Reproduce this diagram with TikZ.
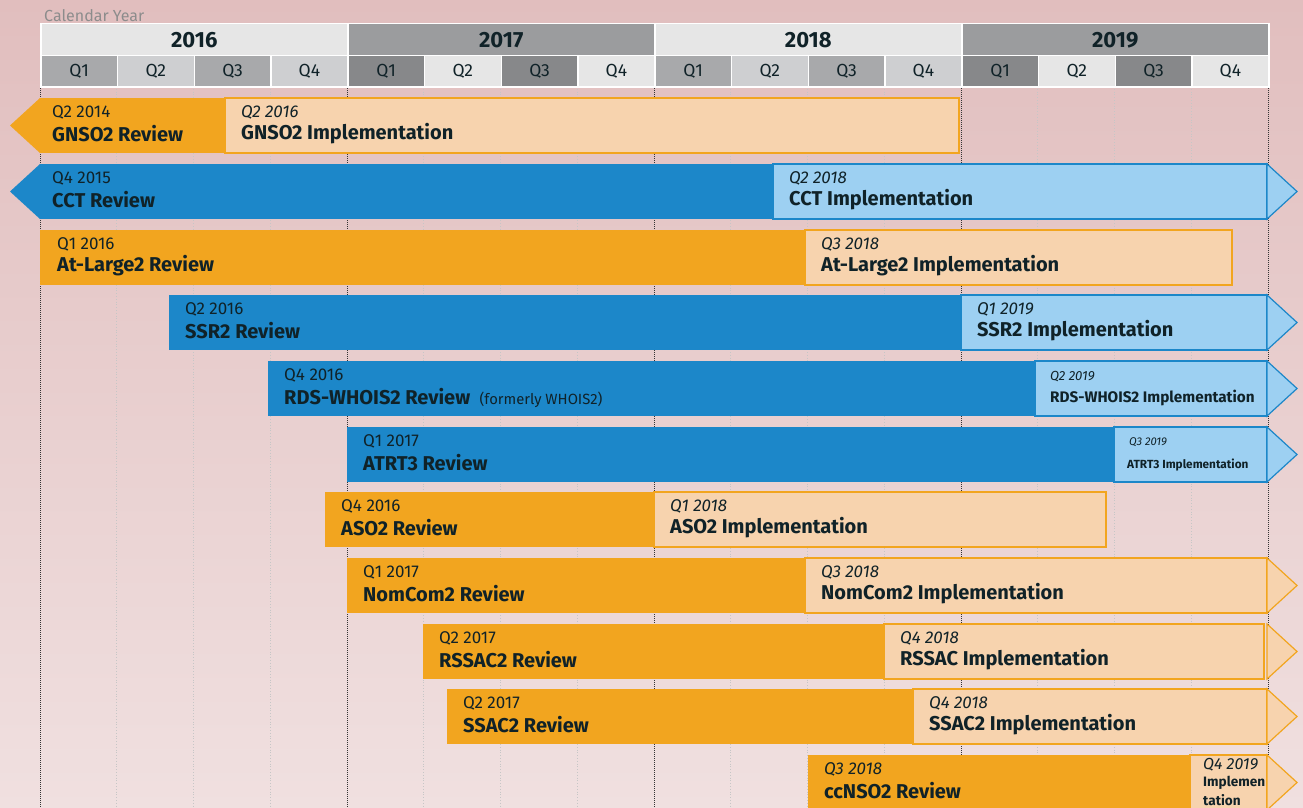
\documentclass[tikz,border=0pt]{standalone}
\usepackage{fontspec}
\setmainfont{Fira Sans}
\usetikzlibrary{positioning}

\definecolor{bgtop}{RGB}{225,190,190}
\definecolor{bgbot}{RGB}{240,224,224}
\definecolor{revorange}{RGB}{242,165,31}
\definecolor{imporange}{RGB}{247,211,174}
\definecolor{revblue}{RGB}{28,135,201}
\definecolor{impblue}{RGB}{157,208,242}
\definecolor{ink}{RGB}{16,34,40}
\definecolor{calgray}{RGB}{140,140,140}
\definecolor{yrlight}{RGB}{230,230,230}
\definecolor{yrdark}{RGB}{155,156,158}
\definecolor{qmid}{RGB}{168,169,171}
\definecolor{qlight}{RGB}{206,207,209}
\definecolor{qdark}{RGB}{135,136,138}

\tikzset{
  yearbox/.style={anchor=north west, minimum width=307pt, minimum height=32pt, inner sep=0pt,
    draw=white, line width=1.5pt, text=ink, font=\fontsize{22}{24}\selectfont\bfseries},
  qbox/.style={anchor=north west, minimum width=76.75pt, minimum height=31pt, inner sep=0pt,
    draw=white, line width=1.5pt, text=ink, font=\fontsize{17.5}{20}\selectfont},
  qline/.style={gray!45, dotted, line width=0.8pt},
  yline/.style={black!80, densely dotted, line width=1pt},
  bar/.style={anchor=north west, minimum height=55pt, inner sep=0pt, outer sep=0pt},
  orev/.style={bar, fill=revorange},
  brev/.style={bar, fill=revblue},
  oimp/.style={bar, fill=imporange, draw=revorange, line width=1.2pt},
  bimp/.style={bar, fill=impblue, draw=revblue, line width=1.2pt},
  oarrow/.style={fill=imporange, draw=revorange, line width=1.2pt},
  barrow/.style={fill=impblue, draw=revblue, line width=1.2pt},
  datetxt/.style={anchor=west, inner sep=0pt, text=ink, font=\fontsize{17}{20}\selectfont},
  itdate/.style={font=\fontsize{17}{20}\selectfont\itshape},
  nametxt/.style={anchor=west, inner sep=0pt, text=ink, font=\fontsize{20}{23}\selectfont\bfseries},
}

\begin{document}
\begin{tikzpicture}[x=1pt, y=-1pt]
  \useasboundingbox (0,0) rectangle (1303,808);
  \shade[top color=bgtop, bottom color=bgbot] (0,0) rectangle (1303,808);

  \foreach \k in {1,2,3,5,6,7,9,10,11,13,14,15} {   %quarter lines
    \draw[qline] ({40+76.75*\k},86) -- ({40+76.75*\k},808);
  }
  \foreach \k in {0,...,4} {   %year lines
    \draw[yline] ({40+307*\k},86) -- ({40+307*\k},808);
  }

  %header
  \node[anchor=west, inner sep=0pt, text=calgray, font=\fontsize{16}{18}\selectfont] (calyear) at (44,16) {Calendar Year};
  \foreach \yr/\yc/\qa/\qb [count=\i from 0] in {2016/yrlight/qmid/qlight, 2017/yrdark/qdark/yrlight, 2018/yrlight/qmid/qlight, 2019/yrdark/qdark/yrlight} {
    \node[yearbox, fill=\yc] (y\yr) at ({40+307*\i},23) {\yr};
    \foreach \q/\qc in {1/\qa,2/\qb,3/\qa,4/\qb} {   %for each quarter of the year
      \node[qbox, fill=\qc] (q\yr\q) at ({40+307*\i+76.75*(\q-1)},55) {Q\q};
    }
  }

  %GNSO2
  \node[orev, minimum width=185pt] (gnsoRev) at (40,98) {};
  \fill[revorange] (gnsoRev.north west) -- ++(-30,27.5) -- (gnsoRev.south west) -- cycle;
  \node[oimp, minimum width=734pt, right=0pt of gnsoRev] (gnsoImp) {};
  \node[datetxt] (gnsoRevD) at ([shift={(12,14)}]gnsoRev.north west) {Q2 2014};
  \node[nametxt] (gnsoRevN) at ([shift={(12,36)}]gnsoRev.north west) {GNSO2 Review};
  \node[datetxt, itdate] (gnsoImpD) at ([shift={(16,14)}]gnsoImp.north west) {Q2 2016};
  \node[nametxt] (gnsoImpN) at ([shift={(16,36)}]gnsoImp.north west) {GNSO2 Implementation};

  %CCT
  \node[brev, minimum width=733pt] (cctRev) at (40,164) {};
  \fill[revblue] (cctRev.north west) -- ++(-30,27.5) -- (cctRev.south west) -- cycle;
  \node[bimp, minimum width=494pt, right=0pt of cctRev] (cctImp) {};
  \draw[barrow] (cctImp.north east) -- ++(30,27.5) -- (cctImp.south east) -- cycle;
  \node[datetxt] (cctRevD) at ([shift={(12,14)}]cctRev.north west) {Q4 2015};
  \node[nametxt] (cctRevN) at ([shift={(12,36)}]cctRev.north west) {CCT Review};
  \node[datetxt, itdate] (cctImpD) at ([shift={(16,14)}]cctImp.north west) {Q2 2018};
  \node[nametxt] (cctImpN) at ([shift={(16,36)}]cctImp.north west) {CCT Implementation};

  %At-Large2
  \node[orev, minimum width=765pt] (alRev) at (40,230) {};
  \node[oimp, minimum width=427pt, right=0pt of alRev] (alImp) {};
  \node[datetxt] (alRevD) at ([shift={(17,14)}]alRev.north west) {Q1 2016};
  \node[nametxt] (alRevN) at ([shift={(17,36)}]alRev.north west) {At-Large2 Review};
  \node[datetxt, itdate] (alImpD) at ([shift={(16,14)}]alImp.north west) {Q3 2018};
  \node[nametxt] (alImpN) at ([shift={(16,36)}]alImp.north west) {At-Large2 Implementation};

  %SSR2
  \node[brev, minimum width=792pt] (ssrRev) at (169,295) {};
  \node[bimp, minimum width=306pt, right=0pt of ssrRev] (ssrImp) {};
  \draw[barrow] (ssrImp.north east) -- ++(30,27.5) -- (ssrImp.south east) -- cycle;
  \node[datetxt] (ssrRevD) at ([shift={(16,14)}]ssrRev.north west) {Q2 2016};
  \node[nametxt] (ssrRevN) at ([shift={(16,36)}]ssrRev.north west) {SSR2 Review};
  \node[datetxt, itdate] (ssrImpD) at ([shift={(16,14)}]ssrImp.north west) {Q1 2019};
  \node[nametxt] (ssrImpN) at ([shift={(16,36)}]ssrImp.north west) {SSR2 Implementation};

  %RDS-WHOIS2
  \node[brev, minimum width=767pt] (rdsRev) at (268,361) {};
  \node[bimp, minimum width=232pt, right=0pt of rdsRev] (rdsImp) {};
  \draw[barrow] (rdsImp.north east) -- ++(30,27.5) -- (rdsImp.south east) -- cycle;
  \node[datetxt] (rdsRevD) at ([shift={(16,14)}]rdsRev.north west) {Q4 2016};
  \node[nametxt] (rdsRevN) at ([shift={(16,36)}]rdsRev.north west) {RDS-WHOIS2 Review};
  \node[anchor=base west, inner sep=0pt, text=ink, font=\fontsize{14.8}{17}\selectfont] (rdsFormer)
    at ([xshift=9pt]rdsRevN.base east) {(formerly WHOIS2)};
  \node[datetxt, font=\fontsize{13.2}{15}\selectfont\itshape] (rdsImpD) at ([shift={(15,16)}]rdsImp.north west) {Q2 2019};
  \node[nametxt, font=\fontsize{15.3}{17}\selectfont\bfseries] (rdsImpN) at ([shift={(15,37)}]rdsImp.north west) {RDS-WHOIS2 Implementation};

  %ATRT3
  \node[brev, minimum width=767pt] (atrtRev) at (347,427) {};
  \node[bimp, minimum width=153pt, right=0pt of atrtRev] (atrtImp) {};
  \draw[barrow] (atrtImp.north east) -- ++(30,27.5) -- (atrtImp.south east) -- cycle;
  \node[datetxt] (atrtRevD) at ([shift={(16,14)}]atrtRev.north west) {Q1 2017};
  \node[nametxt] (atrtRevN) at ([shift={(16,36)}]atrtRev.north west) {ATRT3 Review};
  \node[datetxt, font=\fontsize{11.2}{13}\selectfont\itshape] (atrtImpD) at ([shift={(15,15)}]atrtImp.north west) {Q3 2019};
  \node[nametxt, font=\fontsize{11.8}{13}\selectfont\bfseries] (atrtImpN) at ([shift={(13,38)}]atrtImp.north west) {ATRT3 Implementation};

  %ASO2
  \node[orev, minimum width=329pt] (asoRev) at (325,492) {};
  \node[oimp, minimum width=452pt, right=0pt of asoRev] (asoImp) {};
  \node[datetxt] (asoRevD) at ([shift={(16,14)}]asoRev.north west) {Q4 2016};
  \node[nametxt] (asoRevN) at ([shift={(16,36)}]asoRev.north west) {ASO2 Review};
  \node[datetxt, itdate] (asoImpD) at ([shift={(16,14)}]asoImp.north west) {Q1 2018};
  \node[nametxt] (asoImpN) at ([shift={(16,36)}]asoImp.north west) {ASO2 Implementation};

  %NomCom2
  \node[orev, minimum width=458pt] (nomRev) at (347,558) {};
  \node[oimp, minimum width=462pt, right=0pt of nomRev] (nomImp) {};
  \draw[oarrow] (nomImp.north east) -- ++(30,27.5) -- (nomImp.south east) -- cycle;
  \node[datetxt] (nomRevD) at ([shift={(16,14)}]nomRev.north west) {Q1 2017};
  \node[nametxt] (nomRevN) at ([shift={(16,36)}]nomRev.north west) {NomCom2 Review};
  \node[datetxt, itdate] (nomImpD) at ([shift={(16,14)}]nomImp.north west) {Q3 2018};
  \node[nametxt] (nomImpN) at ([shift={(16,36)}]nomImp.north west) {NomCom2 Implementation};

  %RSSAC2
  \node[orev, minimum width=461pt] (rssacRev) at (423,624) {};
  \node[oimp, minimum width=380pt, right=0pt of rssacRev] (rssacImp) {};
  \draw[oarrow] ([xshift=3pt]rssacImp.north east) -- ++(30,27.5) -- ([xshift=3pt]rssacImp.south east) -- cycle;
  \node[datetxt] (rssacRevD) at ([shift={(16,14)}]rssacRev.north west) {Q2 2017};
  \node[nametxt] (rssacRevN) at ([shift={(16,36)}]rssacRev.north west) {RSSAC2 Review};
  \node[datetxt, itdate] (rssacImpD) at ([shift={(16,14)}]rssacImp.north west) {Q4 2018};
  \node[nametxt] (rssacImpN) at ([shift={(16,36)}]rssacImp.north west) {RSSAC Implementation};

  %SSAC2
  \node[orev, minimum width=466pt] (ssacRev) at (447,689) {};
  \node[oimp, minimum width=354pt, right=0pt of ssacRev] (ssacImp) {};
  \draw[oarrow] (ssacImp.north east) -- ++(30,27.5) -- (ssacImp.south east) -- cycle;
  \node[datetxt] (ssacRevD) at ([shift={(16,14)}]ssacRev.north west) {Q2 2017};
  \node[nametxt] (ssacRevN) at ([shift={(16,36)}]ssacRev.north west) {SSAC2 Review};
  \node[datetxt, itdate] (ssacImpD) at ([shift={(16,14)}]ssacImp.north west) {Q4 2018};
  \node[nametxt] (ssacImpN) at ([shift={(16,36)}]ssacImp.north west) {SSAC2 Implementation};

  %ccNSO2
  \node[orev, minimum width=382pt] (ccRev) at (808,755) {};
  \node[oimp, minimum width=77pt, right=0pt of ccRev] (ccImp) {};
  \draw[oarrow] (ccImp.north east) -- ++(30,27.5) -- (ccImp.south east) -- cycle;
  \node[datetxt, itdate] (ccRevD) at ([shift={(16,14)}]ccRev.north west) {Q3 2018};
  \node[nametxt] (ccRevN) at ([shift={(16,36)}]ccRev.north west) {ccNSO2 Review};
  \node[datetxt, font=\fontsize{16}{18}\selectfont\itshape] (ccImpD) at ([shift={(13,10)}]ccImp.north west) {Q4 2019};
  \node[nametxt, font=\fontsize{13.6}{15}\selectfont\bfseries] (ccImpA) at ([shift={(13,28)}]ccImp.north west) {Implemen};
  \node[nametxt, font=\fontsize{13.6}{15}\selectfont\bfseries] (ccImpB) at ([shift={(13,45)}]ccImp.north west) {tation};
\end{tikzpicture}
\end{document}
